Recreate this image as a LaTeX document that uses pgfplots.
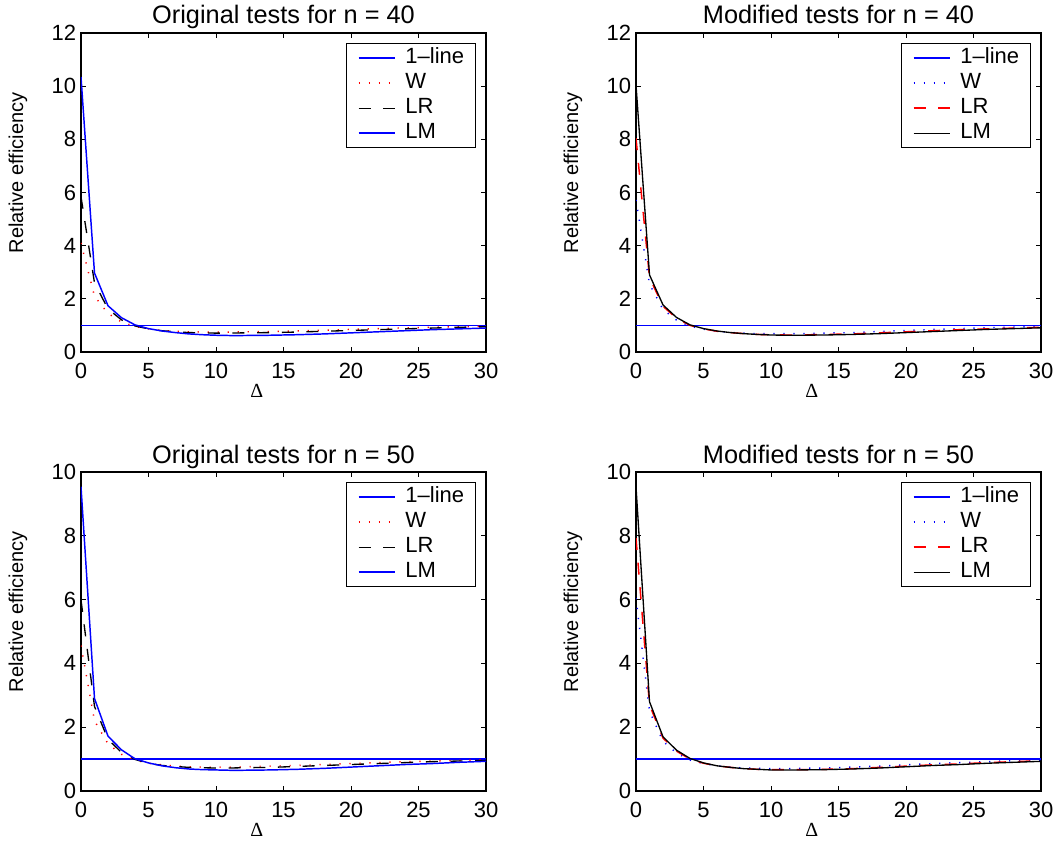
\documentclass[border=0pt]{standalone}
\usepackage{fontspec}
\setmainfont{Liberation Sans}
\newfontfamily\greekserif{Liberation Serif}
\usepackage{pgfplots}
\usepackage{pgfplotstable}
\pgfplotsset{compat=1.18}
\newcommand\fsK{\fontsize{16.5}{19}\selectfont}
\newcommand\fsT{\fontsize{19}{22}\selectfont}
\newcommand\fsL{\fontsize{15}{18}\selectfont}
\definecolor{mblue}{rgb}{0,0,1}
\definecolor{mred}{rgb}{1,0,0}

% columns: x, LM, LR, W
\pgfplotstableread{
x lm lr w
0 10.35 5.84 4.10
1 2.97 2.60 2.10
2 1.74 1.62 1.45
3 1.29 1.21 1.13
4 1.02 0.98 0.96
5 0.88 0.87 0.87
6 0.79 0.80 0.81
7 0.73 0.76 0.78
8 0.68 0.73 0.76
9 0.65 0.72 0.75
10 0.63 0.71 0.75
11 0.62 0.71 0.75
12 0.62 0.72 0.76
14 0.63 0.73 0.77
16 0.65 0.75 0.79
18 0.68 0.78 0.82
20 0.72 0.81 0.85
22 0.76 0.84 0.88
24 0.80 0.87 0.91
26 0.84 0.90 0.93
28 0.87 0.93 0.95
30 0.90 0.95 0.97
}\origA
\pgfplotstableread{
x lm lr w
0 10.04 8.04 5.72
1 2.90 2.80 2.55
2 1.77 1.72 1.60
3 1.30 1.27 1.20
4 1.02 1.00 0.97
5 0.88 0.87 0.86
6 0.79 0.78 0.78
7 0.73 0.73 0.74
8 0.69 0.69 0.71
9 0.66 0.66 0.69
10 0.64 0.65 0.69
11 0.63 0.64 0.69
12 0.63 0.64 0.69
14 0.64 0.66 0.71
16 0.66 0.68 0.73
18 0.69 0.72 0.77
20 0.73 0.76 0.81
22 0.77 0.80 0.85
24 0.81 0.84 0.88
26 0.85 0.87 0.91
28 0.88 0.90 0.94
30 0.91 0.93 0.96
}\modA
\pgfplotstableread{
x lm lr w
0 9.54 5.99 4.56
1 2.90 2.65 2.20
2 1.72 1.62 1.48
3 1.29 1.21 1.15
4 1.01 0.99 0.97
5 0.88 0.87 0.87
6 0.79 0.80 0.82
7 0.73 0.77 0.78
8 0.69 0.74 0.76
9 0.67 0.73 0.75
10 0.66 0.72 0.75
11 0.65 0.72 0.75
12 0.65 0.73 0.76
14 0.66 0.74 0.78
16 0.68 0.77 0.80
18 0.71 0.80 0.83
20 0.75 0.83 0.86
22 0.79 0.86 0.89
24 0.83 0.89 0.92
26 0.86 0.92 0.94
28 0.90 0.94 0.96
30 0.93 0.96 0.98
}\origB
\pgfplotstableread{
x lm lr w
0 9.54 7.93 6.05
1 2.80 2.70 2.50
2 1.70 1.66 1.56
3 1.28 1.25 1.19
4 1.02 1.00 0.97
5 0.88 0.87 0.86
6 0.79 0.79 0.79
7 0.74 0.74 0.75
8 0.70 0.70 0.72
9 0.68 0.68 0.71
10 0.66 0.67 0.70
11 0.66 0.67 0.70
12 0.66 0.67 0.71
14 0.67 0.68 0.72
16 0.69 0.70 0.75
18 0.72 0.74 0.78
20 0.76 0.78 0.82
22 0.80 0.82 0.86
24 0.83 0.85 0.89
26 0.87 0.89 0.92
28 0.90 0.92 0.95
30 0.93 0.95 0.97
}\modB

\pgfplotsset{
  panel/.style={
    scale only axis, anchor=south west,
    width=303.75pt, height=239.25pt,
    xmin=0, xmax=30, ymin=0,
    xtick={0,5,...,30},
    tick align=inside, major tick length=4pt,
    axis line style={line width=0.9pt},
    every tick/.style={black, line width=0.7pt},
    /pgf/number format/assume math mode=true,
    tick label style={font=\fsK},
    xticklabel style={inner sep=0pt, anchor=north, yshift=-8.5pt},
    yticklabel style={inner sep=0pt, anchor=east, xshift=-3.5pt},
    title style={font=\fsT, at={(axis description cs:0.5,1)}, anchor=base, yshift=0.75pt},
    xlabel={\greekserif Δ},
    xlabel style={font=\fsL, at={(axis description cs:0.5,0)}, anchor=north,
      inner sep=0pt, yshift=-24pt, xshift=-20pt},
    ylabel={Relative efficiency},
    ylabel style={font=\fsL, at={(axis description cs:-0.1556,0.562)}, anchor=center},
    legend cell align=left,
    legend style={at={(1,1)}, anchor=north east, xshift=-7.5pt, yshift=-7.5pt,
      draw=black, line width=0.8pt, font=\fsK, inner xsep=8.5pt, inner ysep=3.75pt,
      row sep=4.25pt,
      nodes={inner sep=0pt, text height=11.5pt, text depth=3pt},
      /tikz/every odd column/.append style={column sep=7.5pt}},
    legend image code/.code={\draw[#1] (0pt,0pt) -- (27pt,0pt);},
  },
  oneline/.style={mblue, line width=1.1pt},
  solidb/.style={mblue, line width=1.1pt},
  solidk/.style={black, line width=1pt},
  dotr/.style={mred, line width=1.1pt, dash pattern=on 0.9pt off 6.6pt},
  dotb/.style={mblue, line width=1.1pt, dash pattern=on 0.9pt off 6.6pt},
  dashk/.style={black, line width=1pt, dash pattern=on 9pt off 9.5pt},
  dashr/.style={mred, line width=1.1pt, dash pattern=on 9pt off 9.5pt},
}

\begin{document}
\begin{tikzpicture}
\useasboundingbox (0,0) rectangle (795pt,633pt);

% top left
\begin{axis}[panel, at={(60.75pt,369pt)}, ymax=12, ytick={0,2,...,12},
  title={Original tests for n = 40}]
\addplot[oneline] coordinates {(0,1) (30,1)};
\addplot[dotr] table[x=x, y=w] {\origA};
\addplot[dashk] table[x=x, y=lr] {\origA};
\addplot[solidb] table[x=x, y=lm] {\origA};
\legend{1--line, W, LR, LM}
\end{axis}

% top right
\begin{axis}[panel, at={(477pt,369pt)}, ymax=12, ytick={0,2,...,12},
  title={Modified tests for n = 40}]
\addplot[oneline] coordinates {(0,1) (30,1)};
\addplot[dotb] table[x=x, y=w] {\modA};
\addplot[dashr] table[x=x, y=lr] {\modA};
\addplot[solidk] table[x=x, y=lm] {\modA};
\legend{1--line, W, LR, LM}
\end{axis}

% bottom left
\begin{axis}[panel, at={(60.75pt,39.75pt)}, ymax=10, ytick={0,2,...,10},
  title={Original tests for n = 50}]
\addplot[oneline] coordinates {(0,1) (30,1)};
\addplot[dotr] table[x=x, y=w] {\origB};
\addplot[dashk] table[x=x, y=lr] {\origB};
\addplot[solidb] table[x=x, y=lm] {\origB};
\legend{1--line, W, LR, LM}
\end{axis}

% bottom right
\begin{axis}[panel, at={(477pt,39.75pt)}, ymax=10, ytick={0,2,...,10},
  title={Modified tests for n = 50}]
\addplot[oneline] coordinates {(0,1) (30,1)};
\addplot[dotb] table[x=x, y=w] {\modB};
\addplot[dashr] table[x=x, y=lr] {\modB};
\addplot[solidk] table[x=x, y=lm] {\modB};
\legend{1--line, W, LR, LM}
\end{axis}
\end{tikzpicture}
\end{document}
